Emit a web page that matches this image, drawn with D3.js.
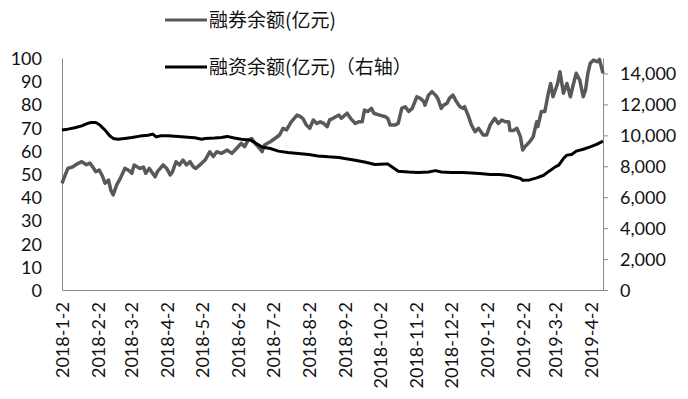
<!DOCTYPE html>
<html>
<head>
<meta charset="utf-8">
<script src="https://cdn.jsdelivr.net/npm/d3@7"></script>
<style>
  body { margin: 0; background: #fff; }
  .tick text { font-family: Lato, "Open Sans", sans-serif; font-size: 18px; fill: #111; }
  .legend text { font-family: "Noto Sans CJK SC", sans-serif; font-size: 19px; fill: #111; }
</style>
</head>
<body>
<script>
// 融券余额 (left axis, 亿元)
var rqDates = ["2018-01-02","2018-01-07","2018-01-11","2018-01-16","2018-01-19","2018-01-23","2018-01-26","2018-01-29","2018-01-31",
  "2018-02-03","2018-02-06","2018-02-08","2018-02-11","2018-02-13","2018-02-15","2018-02-18","2018-02-21","2018-02-25","2018-02-28",
  "2018-03-03","2018-03-05","2018-03-10","2018-03-13","2018-03-15","2018-03-18","2018-03-23","2018-03-25","2018-03-30",
  "2018-04-02","2018-04-05","2018-04-07","2018-04-10","2018-04-13","2018-04-16","2018-04-19","2018-04-22","2018-04-25","2018-04-27",
  "2018-05-02","2018-05-05","2018-05-09","2018-05-12","2018-05-15","2018-05-19","2018-05-24","2018-05-28",
  "2018-06-01","2018-06-05","2018-06-08","2018-06-11","2018-06-14","2018-06-17","2018-06-21","2018-06-23","2018-06-25","2018-06-30",
  "2018-07-04","2018-07-08","2018-07-11","2018-07-14","2018-07-18","2018-07-23","2018-07-26","2018-07-28","2018-07-31",
  "2018-08-03","2018-08-06","2018-08-09","2018-08-12","2018-08-15","2018-08-18","2018-08-20","2018-08-23","2018-08-28","2018-08-30",
  "2018-09-04","2018-09-07","2018-09-11","2018-09-14","2018-09-17","2018-09-19","2018-09-22","2018-09-25","2018-09-27",
  "2018-10-02","2018-10-07","2018-10-09","2018-10-11","2018-10-15","2018-10-18","2018-10-21","2018-10-24","2018-10-27","2018-10-30",
  "2018-11-03","2018-11-06","2018-11-09","2018-11-10","2018-11-13","2018-11-16","2018-11-19","2018-11-21","2018-11-24","2018-11-26","2018-11-29",
  "2018-12-01","2018-12-04","2018-12-07","2018-12-10","2018-12-13","2018-12-14","2018-12-17","2018-12-20","2018-12-23","2018-12-26","2018-12-30",
  "2019-01-02","2019-01-05","2019-01-09","2019-01-12","2019-01-15","2019-01-18","2019-01-21","2019-01-22","2019-01-25","2019-01-28","2019-01-31",
  "2019-02-02","2019-02-04","2019-02-08","2019-02-11","2019-02-14","2019-02-15","2019-02-18","2019-02-21","2019-02-24","2019-02-26","2019-02-28",
  "2019-03-04","2019-03-06","2019-03-09","2019-03-12","2019-03-15","2019-03-17","2019-03-20","2019-03-23","2019-03-26","2019-03-28","2019-03-30",
  "2019-04-01","2019-04-04","2019-04-07","2019-04-09","2019-04-12"];
var rqValues = [46,52.4,53,54.6,55.3,54,54.7,52.6,51,
  51.7,48.8,46,47.4,43,41,45.3,48,52.4,51.7,
  50.3,53.9,52.4,53,50.3,52.4,48.8,51,53.9,
  52.4,49.6,51,55.3,53.9,56,53.9,55.3,53,52.4,
  54.6,56,59.6,57.5,59.6,58.9,60.3,58.9,
  61,63.2,61.8,64.7,65.3,63.2,61,59.6,62.5,63.9,
  65.3,66.8,69.7,69,72.5,75.4,74.7,74,71.1,
  69.7,73.3,71.8,72.5,71.8,70.4,73.3,74,75.4,74,
  76.2,74,71.8,72.5,72.5,77.6,76.9,78.3,76.2,
  75.4,74.7,74,71.1,71.1,71.8,78.3,79,76.9,78.3,
  83.3,82.6,81.2,79.7,84,85.5,84,82.6,78.3,79.7,80.5,
  82.6,84,81.2,79,78.3,79,75.4,71.1,68.2,69.7,66.8,
  66.8,71.1,74,71.8,73.3,72.5,72.5,68.8,68.8,69.7,66.1,
  60.3,61.8,63.9,66.1,72.5,70.4,76.9,76.9,84.8,89,83.3,
  89,94.1,84.8,89,83.3,87.6,93.4,90.5,83.3,86.2,93.4,
  97.7,99.1,98.4,99.4,93.4];

// 融资余额 (right axis, 亿元)
var rzDates = ["2018-01-02","2018-01-07","2018-01-13","2018-01-19","2018-01-24","2018-01-27","2018-01-31",
  "2018-02-03","2018-02-08","2018-02-12","2018-02-15","2018-02-19","2018-02-25",
  "2018-03-03","2018-03-10","2018-03-17","2018-03-21","2018-03-24","2018-03-28",
  "2018-04-03","2018-04-12","2018-04-20","2018-04-26",
  "2018-05-02","2018-05-05","2018-05-13","2018-05-19","2018-05-24","2018-05-29",
  "2018-06-05","2018-06-13","2018-06-18","2018-06-23","2018-06-30",
  "2018-07-07","2018-07-15","2018-07-24","2018-08-02","2018-08-10","2018-08-19","2018-08-28",
  "2018-09-02","2018-09-11","2018-09-19","2018-09-28",
  "2018-10-07","2018-10-09","2018-10-14","2018-10-18","2018-10-27",
  "2018-11-04","2018-11-13","2018-11-19","2018-11-24","2018-12-03","2018-12-12","2018-12-20","2018-12-27",
  "2019-01-05","2019-01-13","2019-01-21","2019-01-26","2019-01-31",
  "2019-02-02","2019-02-08","2019-02-14","2019-02-20","2019-02-25",
  "2019-03-02","2019-03-05","2019-03-09","2019-03-12","2019-03-16","2019-03-20","2019-03-26",
  "2019-04-01","2019-04-07","2019-04-12"];
var rzValues = [10340,10400,10490,10610,10770,10830,10830,
  10700,10340,9970,9800,9750,9800,
  9860,9950,10010,10080,9900,9970,
  9970,9930,9880,9840,
  9750,9800,9820,9860,9930,9840,
  9750,9690,9470,9250,9150,
  8980,8890,8830,8760,8670,8610,8570,
  8500,8390,8280,8110,
  8150,8150,7890,7680,7630,
  7600,7630,7720,7630,7600,7600,7570,7530,
  7470,7470,7400,7310,7210,
  7100,7120,7250,7420,7700,
  7960,8070,8500,8720,8760,8980,9100,
  9250,9430,9620];

var xTickLabels = ["2018-1-2","2018-2-2","2018-3-2","2018-4-2","2018-5-2","2018-6-2","2018-7-2","2018-8-2",
  "2018-9-2","2018-10-2","2018-11-2","2018-12-2","2019-1-2","2019-2-2","2019-3-2","2019-4-2"];
var leftTicks = [0,10,20,30,40,50,60,70,80,90,100];
var rightTicks = [0,2000,4000,6000,8000,10000,12000,14000];

var W = 688, H = 399;
var plot = {left: 62, right: 603, top: 58, bottom: 290};

var svg = d3.select("body").append("svg")
    .attr("width", W)
    .attr("height", H);

var parse = d3.timeParse("%Y-%m-%d");
var labelParse = d3.timeParse("%Y-%-m-%-d");

var rq = rqDates.map(function(d, i) { return {date: parse(d), value: rqValues[i]}; });
var rz = rzDates.map(function(d, i) { return {date: parse(d), value: rzValues[i]}; });

var x = d3.scaleTime()
    .domain([parse("2018-01-02"), parse("2019-04-12")])
    .range([plot.left, plot.right]);
var yL = d3.scaleLinear().domain([0, 100]).range([plot.bottom, plot.top]);
var yR = d3.scaleLinear().domain([0, 15000]).range([plot.bottom, plot.top]);

var axisColor = "#8a8a8a";

// left axis
var gl = svg.append("g")
    .attr("transform", "translate(" + plot.left + ",0)")
    .call(d3.axisLeft(yL).tickValues(leftTicks).tickSize(0).tickPadding(20));
gl.select(".domain").attr("stroke", axisColor);
gl.selectAll(".tick text").attr("dy", "0.36em");

// right axis
var gr = svg.append("g")
    .attr("transform", "translate(" + plot.right + ",0)")
    .call(d3.axisRight(yR).tickValues(rightTicks).tickSize(5).tickSizeOuter(0).tickPadding(12)
      .tickFormat(d3.format(",")));
gr.select(".domain").attr("stroke", axisColor);
gr.selectAll(".tick line").attr("stroke", axisColor);
gr.selectAll(".tick text").attr("dy", "0.36em");

// bottom axis
var tickDates = xTickLabels.map(function(s) { return labelParse(s); });
var gb = svg.append("g")
    .attr("transform", "translate(0," + plot.bottom + ")")
    .call(d3.axisBottom(x).tickValues(tickDates).tickSize(0).tickSizeOuter(0)
      .tickFormat(function(d, i) { return xTickLabels[i]; }));
gb.select(".domain").attr("stroke", axisColor);
gb.selectAll(".tick text")
    .attr("transform", "rotate(-90)")
    .attr("x", -12)
    .attr("y", 0)
    .attr("dy", "0.36em")
    .style("text-anchor", "end");

// lines
var lineL = d3.line()
    .x(function(d) { return x(d.date); })
    .y(function(d) { return yL(d.value); });
var lineR = d3.line()
    .x(function(d) { return x(d.date); })
    .y(function(d) { return yR(d.value); });

svg.append("path")
    .datum(rq)
    .attr("fill", "none")
    .attr("stroke", "#595959")
    .attr("stroke-width", 3.5)
    .attr("stroke-linejoin", "round")
    .attr("d", lineL);

svg.append("path")
    .datum(rz)
    .attr("fill", "none")
    .attr("stroke", "#000")
    .attr("stroke-width", 3)
    .attr("stroke-linejoin", "round")
    .attr("d", lineR);

// legend
var legendItems = [
  {label: "融券余额(亿元)", color: "#595959", y: 20},
  {label: "融资余额(亿元)（右轴）", color: "#000", y: 67}
];
var lg = svg.append("g").attr("class", "legend");
lg.selectAll("line")
    .data(legendItems)
    .enter().append("line")
    .attr("x1", 165).attr("x2", 207)
    .attr("y1", function(d) { return d.y; })
    .attr("y2", function(d) { return d.y; })
    .attr("stroke", function(d) { return d.color; })
    .attr("stroke-width", 3);
lg.selectAll("text")
    .data(legendItems)
    .enter().append("text")
    .attr("x", 209)
    .attr("y", function(d) { return d.y; })
    .attr("dy", "0.35em")
    .text(function(d) { return d.label; });
</script>
</body>
</html>
